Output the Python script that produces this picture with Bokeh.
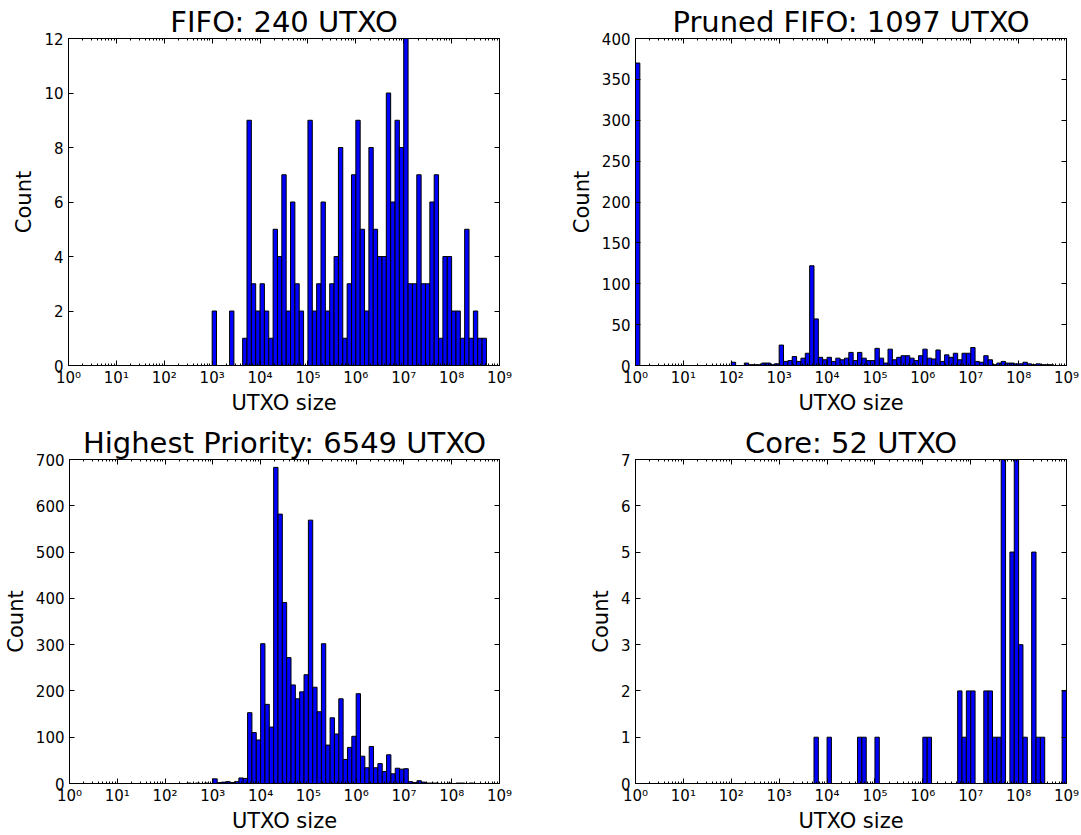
import numpy as np
from bokeh.plotting import figure
from bokeh.models import Range1d, FixedTicker, LogAxis, LinearAxis, CustomJSTickFormatter
from bokeh.layouts import column, row
from bokeh.embed import file_html
from bokeh.resources import INLINE

# 99 logarithmic bins from 10^0 to 10^9 (11 bins per decade)
bin_edges = np.logspace(0, 9, 100)

# counts per bin, one row per decade (11 bins each)
fifo_counts = [
    0, 0, 0, 0, 0, 0, 0, 0, 0, 0, 0,
    0, 0, 0, 0, 0, 0, 0, 0, 0, 0, 0,
    0, 0, 0, 0, 0, 0, 0, 0, 0, 0, 0,
    2, 0, 0, 0, 2, 0, 0, 1, 9, 3, 2,
    3, 2, 1, 5, 4, 7, 2, 6, 3, 2, 0,
    9, 2, 3, 6, 2, 3, 4, 8, 1, 3, 7,
    9, 5, 2, 8, 5, 4, 4, 10, 6, 9, 8,
    12, 3, 3, 7, 3, 3, 6, 7, 1, 4, 4,
    2, 2, 1, 5, 1, 2, 1, 1, 0, 0, 0,
]
pruned_counts = [
    370, 0, 0, 0, 0, 0, 0, 0, 0, 0, 0,
    0, 0, 0, 0, 0, 0, 0, 0, 0, 0, 0,
    4, 0, 0, 3, 1, 1, 1, 3, 3, 1, 2,
    25, 5, 6, 11, 5, 9, 15, 122, 57, 10, 7,
    10, 5, 9, 7, 9, 16, 6, 16, 9, 6, 6,
    21, 9, 3, 20, 7, 10, 12, 12, 9, 6, 12,
    20, 9, 8, 19, 5, 13, 10, 15, 7, 15, 15,
    22, 5, 4, 12, 7, 1, 3, 5, 3, 3, 2,
    2, 4, 2, 1, 2, 1, 1, 1, 0, 0, 0,
]
priority_counts = [
    0, 0, 0, 0, 0, 0, 0, 0, 0, 0, 0,
    0, 0, 0, 0, 0, 0, 0, 0, 0, 0, 0,
    0, 0, 0, 0, 0, 1, 0, 1, 0, 1, 0,
    10, 2, 3, 4, 2, 4, 12, 11, 153, 110, 94,
    302, 171, 122, 683, 582, 391, 272, 213, 183, 198, 235,
    569, 208, 155, 302, 83, 142, 107, 183, 52, 78, 102,
    194, 59, 34, 80, 34, 43, 26, 62, 21, 33, 31,
    32, 4, 2, 6, 3, 1, 1, 1, 0, 0, 1,
    0, 1, 1, 0, 1, 0, 0, 0, 0, 0, 0,
]
core_counts = [
    0, 0, 0, 0, 0, 0, 0, 0, 0, 0, 0,
    0, 0, 0, 0, 0, 0, 0, 0, 0, 0, 0,
    0, 0, 0, 0, 0, 0, 0, 0, 0, 0, 0,
    0, 0, 0, 0, 0, 0, 0, 0, 1, 0, 0,
    1, 0, 0, 0, 0, 0, 0, 1, 1, 0, 0,
    1, 0, 0, 0, 0, 0, 0, 0, 0, 0, 0,
    1, 1, 0, 0, 0, 0, 0, 0, 2, 1, 2,
    2, 0, 0, 2, 2, 1, 1, 7, 0, 5, 7,
    3, 1, 0, 5, 1, 1, 0, 0, 0, 0, 2,
]

titles = ["FIFO: 240 UTXO", "Pruned FIFO: 1097 UTXO",
          "Highest Priority: 6549 UTXO", "Core: 52 UTXO"]
y_ticks = [
    [0, 2, 4, 6, 8, 10, 12],
    [0, 50, 100, 150, 200, 250, 300, 350, 400],
    [0, 100, 200, 300, 400, 500, 600, 700],
    [0, 1, 2, 3, 4, 5, 6, 7],
]
x_label = "UTXO size"
y_label = "Count"
x_major = [10.0 ** k for k in range(10)]
x_minor = [m * 10.0 ** k for k in range(9) for m in range(2, 10)]

FONT = "DejaVu Sans"

sup_fmt = r"""
const sup = ['\u2070','\u00b9','\u00b2','\u00b3','\u2074','\u2075','\u2076','\u2077','\u2078','\u2079'];
const e = Math.round(Math.log10(tick));
return '10' + sup[e];
"""


def style_axis(ax, labels=True):
    ax.axis_line_color = "black"
    ax.major_tick_line_color = "black"
    ax.minor_tick_line_color = "black"
    ax.major_tick_in = 5
    ax.major_tick_out = 0
    ax.minor_tick_in = 2
    ax.minor_tick_out = 0
    ax.major_label_text_font = FONT
    ax.major_label_text_color = "black"
    ax.axis_label_text_font = FONT
    ax.axis_label_text_font_style = "normal"
    ax.axis_label_text_font_size = "21px"
    ax.axis_label_text_color = "black"
    if labels:
        ax.major_label_text_font_size = "15px"
    else:
        ax.major_label_text_font_size = "1px"
        ax.major_label_text_alpha = 0
        ax.major_label_standoff = 0
        ax.formatter = CustomJSTickFormatter(code="return '';")


def make_panel(title, counts, yt, width, height, bl, br, bt, bb):
    p = figure(width=width, height=height, x_axis_type="log",
               x_range=Range1d(1, 1e9), y_range=Range1d(yt[0], yt[-1]),
               output_backend="svg", toolbar_location=None,
               min_border_left=bl, min_border_right=br,
               min_border_top=bt, min_border_bottom=bb)
    p.title.text = title
    p.title.text_font = FONT
    p.title.text_font_size = "29px"
    p.title.text_font_style = "normal"
    p.title.align = "center"
    p.title.standoff = 0
    p.title.text_color = "black"
    p.xgrid.visible = False
    p.ygrid.visible = False
    p.outline_line_color = "black"
    p.outline_line_width = 1
    p.background_fill_color = "white"
    p.border_fill_color = "white"

    c = np.array(counts, dtype=float)
    mask = c > 0
    p.quad(left=bin_edges[:-1][mask], right=bin_edges[1:][mask],
           bottom=0, top=c[mask],
           fill_color="#0000ff", line_color="black", line_width=1)

    xa = p.xaxis[0]
    xa.ticker = FixedTicker(ticks=x_major, minor_ticks=x_minor)
    xa.formatter = CustomJSTickFormatter(code=sup_fmt)
    xa.axis_label = x_label
    style_axis(xa)
    xa.major_label_standoff = 3
    xa.axis_label_standoff = 1

    ya = p.yaxis[0]
    ya.ticker = FixedTicker(ticks=yt, minor_ticks=[])
    ya.axis_label = y_label
    style_axis(ya)
    ya.major_label_standoff = 5
    ya.axis_label_standoff = 5

    top_ax = LogAxis(ticker=FixedTicker(ticks=x_major, minor_ticks=x_minor))
    style_axis(top_ax, labels=False)
    p.add_layout(top_ax, "above")
    right_ax = LinearAxis(ticker=FixedTicker(ticks=yt, minor_ticks=[]))
    style_axis(right_ax, labels=False)
    p.add_layout(right_ax, "right")
    return p


p1 = make_panel(titles[0], fifo_counts, y_ticks[0], 548, 420, 68, 49, 38, 55)
p2 = make_panel(titles[1], pruned_counts, y_ticks[1], 532, 420, 87, 14, 38, 55)
p3 = make_panel(titles[2], priority_counts, y_ticks[2], 548, 415, 68, 49, 39, 52)
p4 = make_panel(titles[3], core_counts, y_ticks[3], 532, 415, 87, 14, 39, 52)

layout = column(row(p1, p2, spacing=0), row(p3, p4, spacing=0), spacing=0)

with open("out.html", "w", encoding="utf-8") as f:
    f.write(file_html(layout, INLINE))
